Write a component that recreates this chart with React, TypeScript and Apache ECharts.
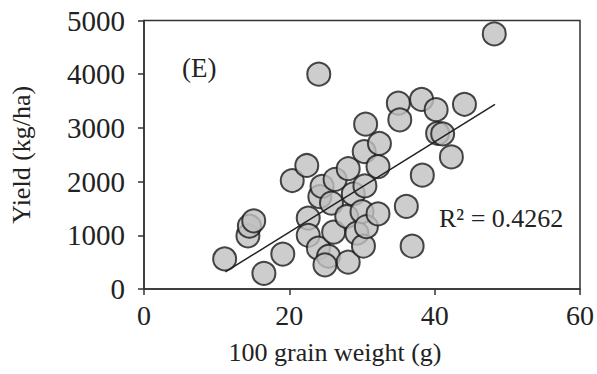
import React, { useEffect, useRef } from "react";
import * as echarts from "echarts";

const grainWeight = [
  11.1, 14.3, 14.5, 15.1, 16.5, 19.1, 20.4, 22.4, 22.6, 22.6,
  24.0, 24.05, 24.2, 24.5, 25.8, 25.4, 24.9, 26.1, 26.3, 28.1,
  28.8, 27.9, 29.3, 28.1, 30.0, 30.2, 30.6, 30.4, 30.3, 30.5,
  32.2, 32.4, 32.2, 35.0, 35.2, 36.1, 36.9, 38.2, 38.3, 40.2,
  40.4, 41.1, 42.3, 44.1, 48.2,
];
const yieldKgHa = [
  560, 990, 1170, 1270, 290, 650, 2020, 2300, 1320, 1000,
  760, 4000, 1720, 1910, 1600, 610, 450, 1060, 2040, 2240,
  1770, 1350, 1040, 500, 1440, 800, 1160, 1920, 2560, 3070,
  2280, 2710, 1400, 3460, 3150, 1540, 800, 3530, 2120, 3340,
  2900, 2890, 2460, 3440, 4750,
];
const trendX = [11.2, 48.3];
const trendY = [320, 3440];
const xTicks = [0, 20, 40, 60];
const yTicks = [0, 1000, 2000, 3000, 4000, 5000];
const panelLabel = "(E)";
const r2Label = "R² = 0.4262";

const FONT = "'Liberation Serif', 'Times New Roman', serif";
const INK = "#222";

export default function App() {
  const ref = useRef<HTMLDivElement>(null);
  useEffect(() => {
    document.body.style.margin = "0";
    if (!ref.current) return;
    const chart = echarts.init(ref.current, null, { renderer: "svg" });
    const points = grainWeight.map((x, i) => [x, yieldKgHa[i]]);
    const trend = trendX.map((x, i) => [x, trendY[i]]);
    chart.setOption({
      animation: false,
      backgroundColor: "#fff",
      grid: {
        left: 143.5,
        right: 16.5,
        top: 20.5,
        bottom: 85,
        show: true,
        borderColor: "#333",
        borderWidth: 1.5,
      },
      xAxis: {
        type: "value",
        min: xTicks[0],
        max: xTicks[xTicks.length - 1],
        interval: 20,
        name: "100 grain weight (g)",
        nameLocation: "middle",
        nameGap: 50,
        nameTextStyle: { fontFamily: FONT, fontSize: 26, color: INK, padding: [0, 54, 0, 0] },
        axisLine: { show: true, lineStyle: { color: "#333", width: 1.5 } },
        axisTick: { show: true, inside: false, length: 6, lineStyle: { color: "#333", width: 1.5 } },
        axisLabel: { fontFamily: FONT, fontSize: 28, color: INK, margin: 12 },
        splitLine: { show: false },
      },
      yAxis: {
        type: "value",
        min: yTicks[0],
        max: yTicks[yTicks.length - 1],
        interval: 1000,
        name: "Yield (kg/ha)",
        nameLocation: "middle",
        nameGap: 110,
        nameTextStyle: { fontFamily: FONT, fontSize: 26, color: INK },
        axisLine: { show: true, lineStyle: { color: "#333", width: 1.5 } },
        axisTick: { show: true, inside: false, length: 6, lineStyle: { color: "#333", width: 1.5 } },
        axisLabel: {
          fontFamily: FONT,
          fontSize: 29,
          color: INK,
          margin: 19,
          formatter: (v: number) => String(v),
        },
        splitLine: { show: false },
      },
      graphic: [
        {
          type: "text",
          left: 182,
          top: 54,
          style: { text: panelLabel, fontFamily: FONT, fontSize: 27, fill: INK },
        },
        {
          type: "text",
          left: 439,
          top: 205,
          style: { text: r2Label, fontFamily: FONT, fontSize: 26, fill: INK },
        },
      ],
      series: [
        {
          type: "scatter",
          data: points,
          symbol: "circle",
          symbolSize: 23,
          itemStyle: { color: "#c0c0c0", borderColor: "#1a1a1a", borderWidth: 2 },
          z: 2,
        },
        {
          type: "line",
          data: trend,
          symbol: "none",
          lineStyle: { color: "#222", width: 1.5 },
          z: 3,
        },
      ],
    });
    return () => chart.dispose();
  }, []);
  return <div ref={ref} style={{ width: 597, height: 374 }} />;
}
